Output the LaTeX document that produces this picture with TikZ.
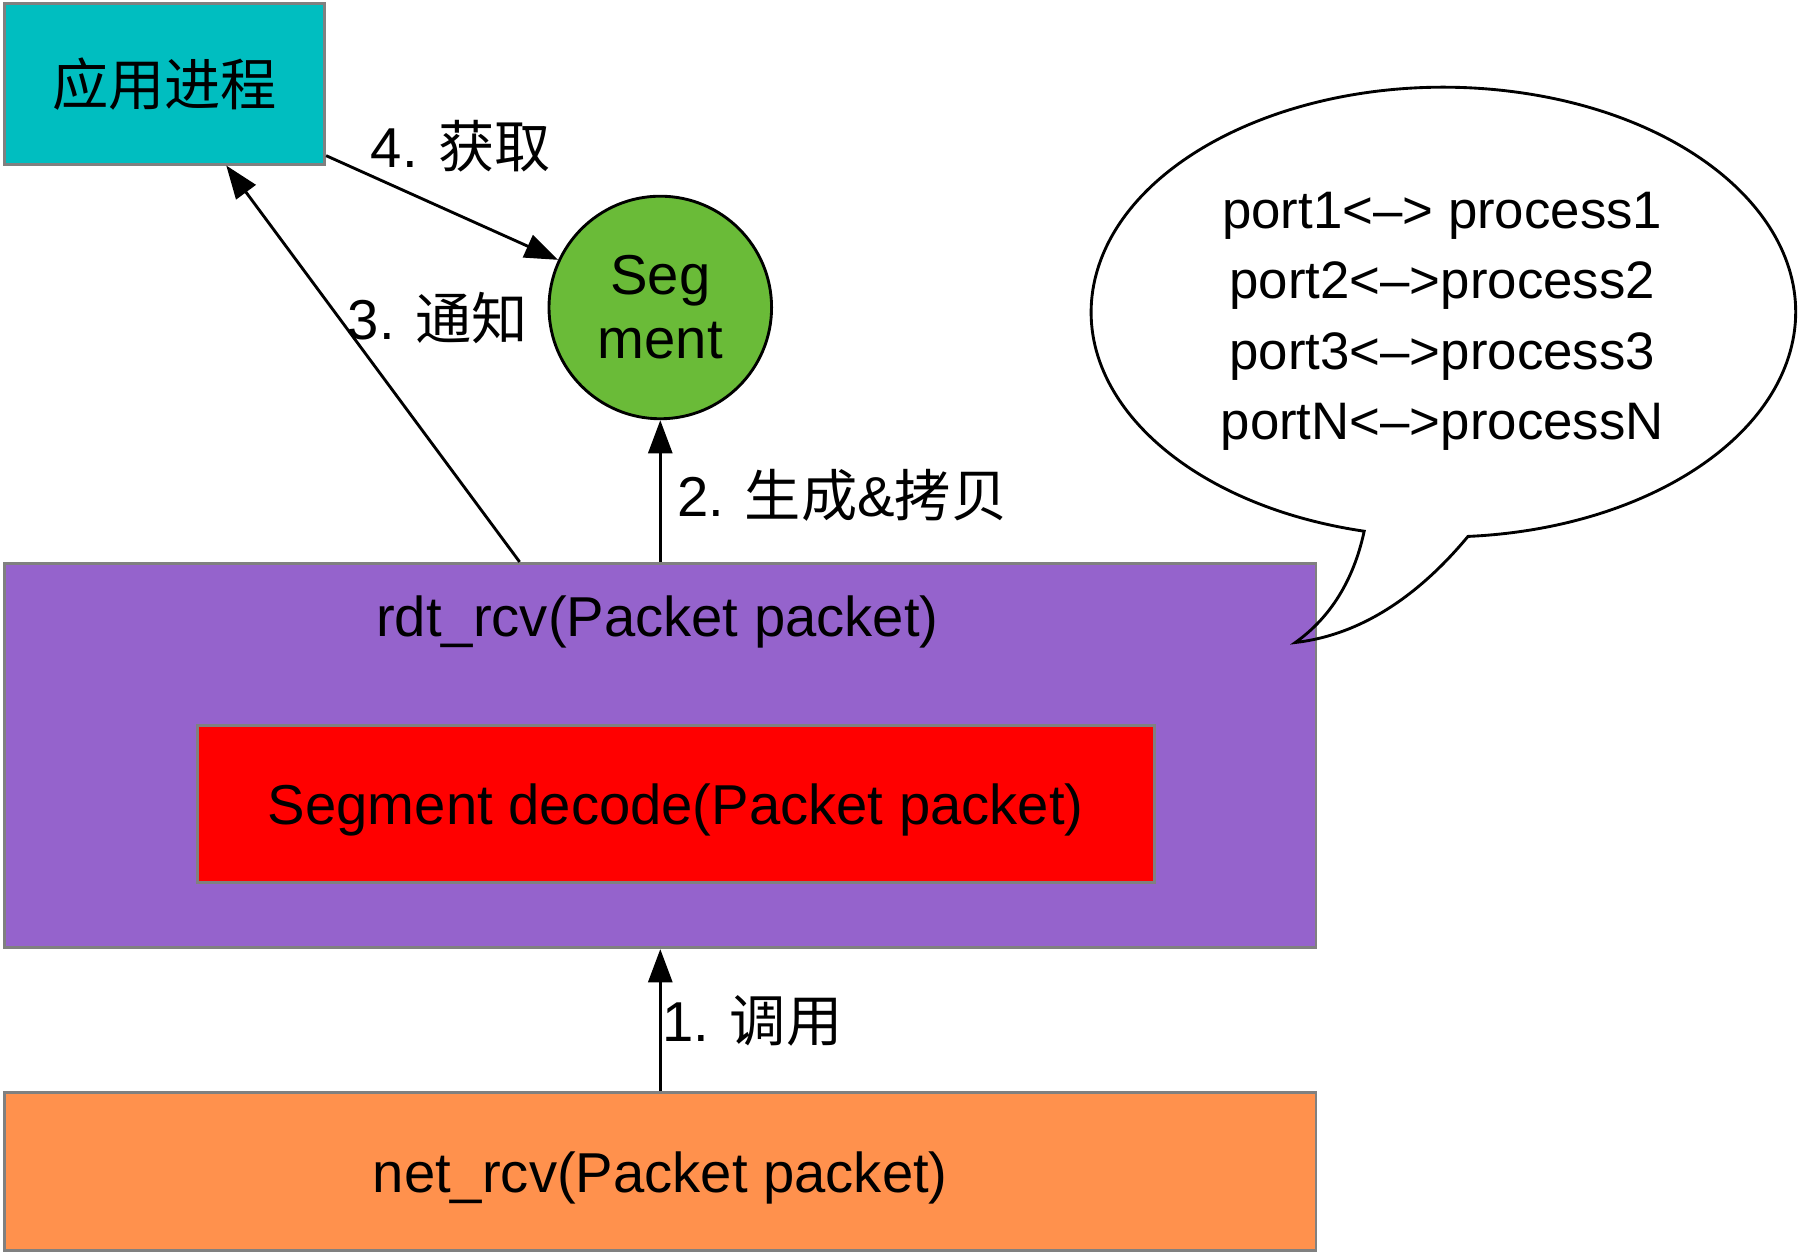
\documentclass[tikz,border=0pt]{standalone}
\usepackage{fontspec}
\setmainfont{Liberation Sans}
\newfontfamily\cjk{Noto Sans CJK SC}
\usetikzlibrary{arrows.meta}
\definecolor{appteal}{RGB}{0,190,192}
\definecolor{seggreen}{RGB}{106,187,56}
\definecolor{rdtpurple}{RGB}{149,99,204}
\definecolor{decred}{RGB}{255,0,0}
\definecolor{netorange}{RGB}{255,145,77}
\definecolor{boxgray}{RGB}{128,128,128}
\tikzset{
    box/.style={draw=boxgray, line width=2.5pt, inner sep=0pt},
    txtlow/.style={text height=46pt, text depth=10pt},
    arr/.style={line width=2.5pt, -{Triangle[length=29pt,width=21pt]}},
    lbl/.style={inner sep=0pt, anchor=west},
}

\begin{document}
\begin{tikzpicture}[x=1pt,y=-1pt,font=\fontsize{49}{56}\selectfont]
    \useasboundingbox (0,0) rectangle (1568,1094);

    \node[box,fill=appteal,minimum width=279pt,minimum height=140pt] (app) at (143.5,73) {{\cjk 应用进程}};
    \node[circle,draw,line width=2.5pt,fill=seggreen,minimum size=194pt,inner sep=0pt,align=center] (seg) at (575.5,268) {Seg\\ment};

    \node[box,fill=rdtpurple,minimum width=1143pt,minimum height=335pt] (rdt) at (575.5,658.5) {};
    \node (rdttext) at (573,542) {rdt\_rcv(Packet packet)};
    \node[box,txtlow,fill=decred,minimum width=834pt,minimum height=137pt] (dec) at (589,700.5) {Segment decode(Packet packet)};
    \node[box,txtlow,fill=netorange,minimum width=1143pt,minimum height=138pt] (net) at (575.5,1021) {net\_rcv(Packet packet)};

    % callout
    \draw[line width=2.5pt] (1189,463) arc[start angle=103,end angle=446,x radius=307,y radius=196]
        .. controls (1240,515) and (1190,553) .. (1129,560)
        .. controls (1160,538) and (1180,505) .. (1189,463) -- cycle;
    \node[font=\fontsize{46}{61.5}\selectfont,align=center] (ports) at (1257,280)
        {port1<–> process1\\port2<–>process2\\port3<–>process3\\portN<–>processN};

    \draw[arr] (net.north) -- (rdt.south);
    \node[lbl] (l1) at (577,890) {1. {\cjk 调用}};
    \draw[arr] (rdt.north) -- (seg.south);
    \node[lbl] (l2) at (590,432) {2. {\cjk 生成}\&{\cjk 拷贝}};
    \draw[arr] (rdt.126.4) -- (app.-53);
    \node[lbl] (l3) at (303,277) {3. {\cjk 通知}};
    \draw[arr] (app.-24) -- (seg.155);
    \node[lbl] (l4) at (323,127) {4. {\cjk 获取}};
\end{tikzpicture}
\end{document}
